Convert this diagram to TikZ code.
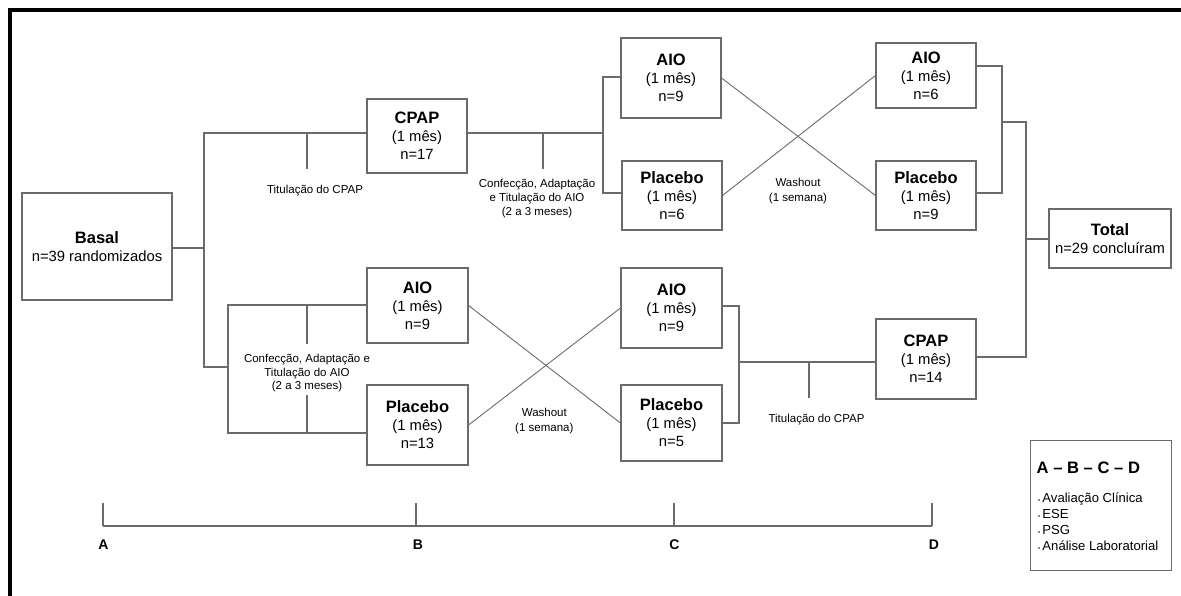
\documentclass[tikz,border=0pt]{standalone}
\usepackage{fontspec}
\setmainfont{Liberation Sans}
\begin{document}
\begin{tikzpicture}[x=1pt,y=-1pt,
  ln/.style={draw=black!58, line width=1.1pt},
  bx/.style={draw=black!58, line width=1.1pt, inner sep=0pt, align=center,
    font=\fontsize{14.8}{18}\selectfont},
  hd/.style={font=\bfseries\fontsize{16.5}{18}\selectfont},
  lbl/.style={font=\fontsize{11.5}{14}\selectfont, align=center, inner sep=0pt},
  tl/.style={font=\bfseries\fontsize{14}{16}\selectfont, inner sep=0pt}]
\useasboundingbox (0,0) rectangle (1181,596);
% frame
\draw[line width=3.6pt] (10,600) -- (10,10) -- (1185,10);

% boxes
\node[bx, minimum width=150pt, minimum height=107pt] (Basal) at (97,246.5)
  {{\bfseries\fontsize{16.5}{18}\selectfont Basal}\\n=39 randomizados};
\node[bx, minimum width=100pt, minimum height=74pt] (CPAP1) at (417,136)
  {{\bfseries\fontsize{16.5}{18}\selectfont CPAP}\\(1 mês)\\n=17};
\node[bx, minimum width=100pt, minimum height=80pt] (AIO1) at (671,78)
  {{\bfseries\fontsize{16.5}{18}\selectfont AIO}\\(1 mês)\\n=9};
\node[bx, minimum width=100pt, minimum height=69pt] (Placebo1) at (672,195.5)
  {{\bfseries\fontsize{16.5}{18}\selectfont Placebo}\\(1 mês)\\n=6};
\node[bx, minimum width=100pt, minimum height=65pt] (AIO2) at (926,75.5)
  {{\bfseries\fontsize{16.5}{18}\selectfont AIO}\\(1 mês)\\n=6};
\node[bx, minimum width=100pt, minimum height=69pt] (Placebo2) at (926,195.5)
  {{\bfseries\fontsize{16.5}{18}\selectfont Placebo}\\(1 mês)\\n=9};
\node[bx, minimum width=122pt, minimum height=59pt] (Total) at (1110,238.5)
  {{\bfseries\fontsize{16.5}{18}\selectfont Total}\\n=29 concluíram};
\node[bx, minimum width=101pt, minimum height=75pt] (AIOL) at (417.5,305.5)
  {{\bfseries\fontsize{16.5}{18}\selectfont AIO}\\(1 mês)\\n=9};
\node[bx, minimum width=101pt, minimum height=80pt] (PlaceboL) at (417.5,425)
  {{\bfseries\fontsize{16.5}{18}\selectfont Placebo}\\(1 mês)\\n=13};
\node[bx, minimum width=101pt, minimum height=80pt] (AIOM) at (671.5,308)
  {{\bfseries\fontsize{16.5}{18}\selectfont AIO}\\(1 mês)\\n=9};
\node[bx, minimum width=101pt, minimum height=76pt] (PlaceboM) at (671.5,423)
  {{\bfseries\fontsize{16.5}{18}\selectfont Placebo}\\(1 mês)\\n=5};
\node[bx, minimum width=100pt, minimum height=80pt] (CPAP2) at (926,359)
  {{\bfseries\fontsize{16.5}{18}\selectfont CPAP}\\(1 mês)\\n=14};

% upper-left fork
\coordinate (jB) at (204,248);
\coordinate (jBt) at (204,133);
\coordinate (jBb) at (204,367);
\coordinate (jL) at (228,367);
\coordinate (jLt) at (228,305);
\coordinate (jLb) at (228,433);
\draw[ln] (Basal.east |- jB) -- (jB);
\draw[ln] (CPAP1.west |- jBt) -- (jBt) -- (jBb) -- (jL);
\draw[ln] (AIOL.west |- jLt) -- (jLt) -- (jLb) -- (PlaceboL.west |- jLb);
\coordinate (t1) at (307,133);
\draw[ln] (t1) -- ++(0,36);
\node[lbl] (lab1) at (315,191) {Titulação do CPAP};
\coordinate (t3a) at (307,305);
\coordinate (t3b) at (307,433);
\draw[ln] (t3a) -- ++(0,39);
\draw[ln] (t3b) -- ++(0,-38);
\node[lbl, font=\fontsize{11.5}{13.5}\selectfont] (lab3) at (307,373.5)
  {Confecção, Adaptação e\\Titulação do AIO\\(2 a 3 meses)};

% upper middle fork
\coordinate (jC) at (603,133);
\coordinate (jCt) at (603,77);
\coordinate (jCb) at (603,193);
\draw[ln] (CPAP1.east |- jC) -- (jC);
\draw[ln] (AIO1.west |- jCt) -- (jCt) -- (jCb) -- (Placebo1.west |- jCb);
\coordinate (t2) at (543,133);
\draw[ln] (t2) -- ++(0,36);
\node[lbl] (lab2) at (537,198.3)
  {Confecção, Adaptação\\e Titulação do AIO\\(2 a 3 meses)};

% crossings
\draw[ln, line width=0.9pt] (AIO1.east) -- (Placebo2.west);
\draw[ln, line width=0.9pt] (Placebo1.east) -- (AIO2.west);
\node[lbl, font=\fontsize{11.5}{15}\selectfont] (wash1) at (798,191.5) {Washout\\(1 semana)};
\draw[ln, line width=0.9pt] (AIOL.east) -- (PlaceboM.west);
\draw[ln, line width=0.9pt] (PlaceboL.east) -- (AIOM.west);
\node[lbl, font=\fontsize{11.5}{15}\selectfont] (wash2) at (544.3,420.7) {Washout\\(1 semana)};

% right forks
\coordinate (jD) at (1002,122);
\coordinate (jDt) at (1002,66);
\coordinate (jDb) at (1002,193);
\draw[ln] (AIO2.east |- jDt) -- (jDt) -- (jDb) -- (Placebo2.east |- jDb);
\coordinate (jE) at (1026,122);
\coordinate (jEb) at (1026,357);
\coordinate (jEm) at (1026,239);
\draw[ln] (jD) -- (jE) -- (jEb) -- (CPAP2.east |- jEb);
\draw[ln] (jEm) -- (Total.west |- jEm);

\coordinate (jF) at (739,362);
\coordinate (jFt) at (739,306);
\coordinate (jFb) at (739,423);
\draw[ln] (AIOM.east |- jFt) -- (jFt) -- (jFb) -- (PlaceboM.east |- jFb);
\draw[ln] (jF) -- (CPAP2.west |- jF);
\coordinate (t4) at (809,362);
\draw[ln] (t4) -- ++(0,36);
\node[lbl] (lab4) at (816.5,419.5) {Titulação do CPAP};

% timeline
\coordinate (tA) at (103,526);
\coordinate (tB) at (416,526);
\coordinate (tC) at (674,526);
\coordinate (tD) at (932,526);
\draw[ln] (tA) -- (tD);
\foreach \t in {tA,tB,tC,tD} \draw[ln] (\t) -- ++(0,-23.5);
\node[tl] (lA) at (103.5,544.5) {A};
\node[tl] (lB) at (418,544.5) {B};
\node[tl] (lC) at (674.5,544.5) {C};
\node[tl] (lD) at (934,544.5) {D};

% legend
\node[draw=black!58, line width=1.1pt, minimum width=141pt, minimum height=130pt,
  inner sep=0pt, anchor=north west] (leg) at (1030,440) {};
\node[anchor=west, inner sep=0pt, font=\bfseries\fontsize{16.6}{18}\selectfont]
  (legt) at (1036.5,467.7) {A – B – C – D};
\node[anchor=north west, inner sep=0pt, align=left,
  font=\fontsize{13.1}{15.9}\selectfont] (legi) at (1038,492.5)
  {{\fontsize{6}{6}\selectfont •}\,Avaliação Clínica\\
   {\fontsize{6}{6}\selectfont •}\,ESE\\
   {\fontsize{6}{6}\selectfont •}\,PSG\\
   {\fontsize{6}{6}\selectfont •}\,Análise Laboratorial};
\end{tikzpicture}
\end{document}
